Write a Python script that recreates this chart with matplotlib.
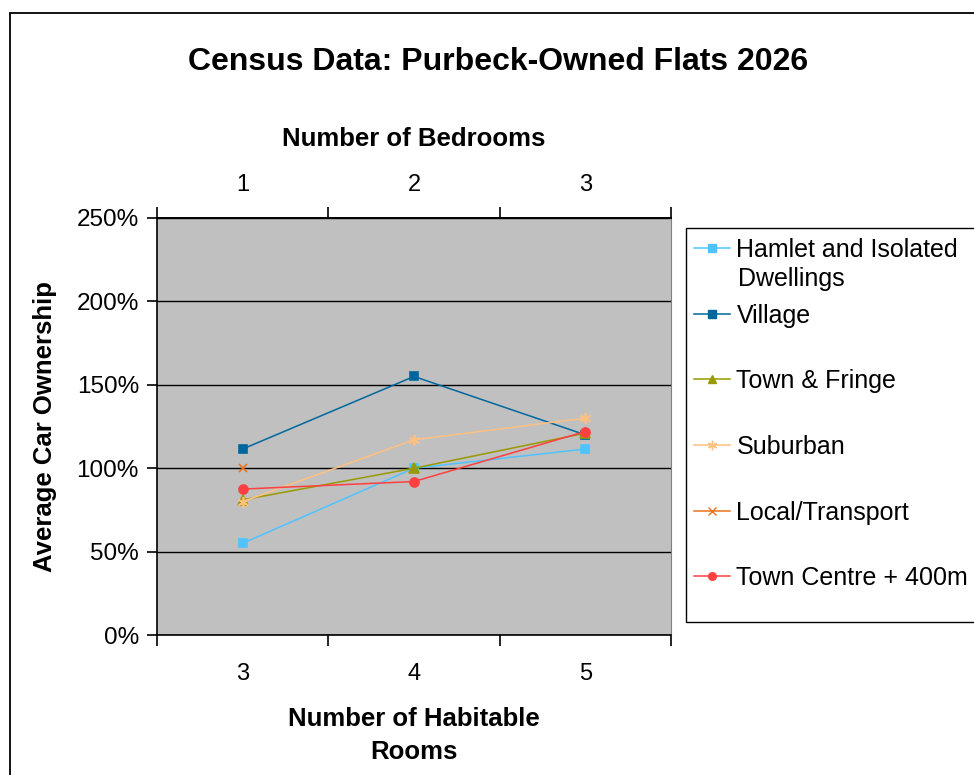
import numpy as np
import matplotlib.pyplot as plt
from matplotlib.lines import Line2D
from matplotlib.patches import Rectangle

plt.rcParams['font.family'] = ['Liberation Sans', 'DejaVu Sans']

rooms = ['3', '4', '5']
bedrooms = ['1', '2', '3']

hamlet = [55, 100, 111.5]
village = [111.5, 155, 120]
town_fringe = [81, 100, 121]
suburban = [80, 117, 130]
local_transport = [100, np.nan, np.nan]
town_centre = [87.5, 92, 122]

series = [
    ('Hamlet and Isolated', hamlet, '#4FC3FF', 's', 6),
    ('Village', village, '#00679E', 's', 6),
    ('Town & Fringe', town_fringe, '#999900', '^', 7),
    ('Suburban', suburban, '#FFC080', (6, 2, 0), 8),
    ('Local/Transport', local_transport, '#E8741E', 'x', 6),
    ('Town Centre + 400m', town_centre, '#FF4040', 'o', 6.5),
]

fig = plt.figure(figsize=(9.74, 7.75), dpi=100)
W, H = 974, 775

# outer chart border (cut off on the right and bottom like the original)
fig.patches.append(Rectangle((10 / W, -0.2), 2, 1 - 13 / H + 0.2, transform=fig.transFigure,
                             fill=False, edgecolor='black', linewidth=1.3, zorder=0))

ax = fig.add_axes([157 / W, 1 - 635 / H, (671 - 157) / W, (635 - 218) / H])
ax.set_facecolor('#C0C0C0')

x = np.arange(len(rooms))
for name, vals, col, mk, ms in series:
    ax.plot(x, vals, color=col, marker=mk, markersize=ms, linewidth=1.1,
            markeredgecolor=col, markeredgewidth=1.2, zorder=3)

ax.set_xlim(-0.5, 2.5)
ax.set_ylim(0, 250)
ax.set_yticks(np.arange(0, 251, 50))
ax.set_yticklabels([f'{v}%' for v in range(0, 251, 50)])
ax.yaxis.grid(True, color='black', linewidth=1)
ax.set_axisbelow(True)

ax.set_xticks([-0.5, 0.5, 1.5, 2.5])
ax.set_xticklabels([])
ax.set_xticks(x, minor=True)
ax.set_xticklabels(rooms, minor=True)
ax.tick_params(axis='x', which='major', length=8, width=1.2, direction='out')
ax.tick_params(axis='x', which='minor', length=0, pad=20, labelsize=17)
ax.tick_params(axis='y', length=7, width=1.2, pad=6, labelsize=17.5)

for s in ['left', 'bottom', 'top']:
    ax.spines[s].set_color('black')
    ax.spines[s].set_linewidth(1.2)
ax.spines['right'].set_color('#808080')

ax.set_xlabel('Number of Habitable\nRooms', fontsize=18.5, fontweight='bold', labelpad=16,
              linespacing=1.45)
ax.set_ylabel('Average Car Ownership', fontsize=18.5, fontweight='bold', labelpad=14)

top = ax.twiny()
top.set_xlim(-0.5, 2.5)
top.set_xticks([-0.5, 0.5, 1.5, 2.5])
top.set_xticklabels([])
top.set_xticks(x, minor=True)
top.set_xticklabels(bedrooms, minor=True)
top.tick_params(axis='x', which='major', length=8, width=1.2, direction='out')
top.tick_params(axis='x', which='minor', length=0, pad=16, labelsize=17)
top.set_xlabel('Number of Bedrooms', fontsize=18.5, fontweight='bold', labelpad=20)
for s in ['left', 'bottom', 'right']:
    top.spines[s].set_visible(False)
top.spines['top'].set_color('black')
top.spines['top'].set_linewidth(1.2)

fig.text(498 / W, 1 - 62 / H, 'Census Data: Purbeck-Owned Flats 2026', ha='center', va='center',
         fontsize=23, fontweight='bold')

# legend: frame plus one row per series, laid out like the spreadsheet legend
fig.patches.append(Rectangle((686 / W, 1 - 622 / H), 1, (622 - 228) / H, transform=fig.transFigure,
                             facecolor='white', edgecolor='black', linewidth=1.0, zorder=1))
row_y = [250, 316, 381, 447, 513, 578]
for (name, vals, col, mk, ms), yy in zip(series, row_y):
    h = Line2D([], [], color=col, marker=mk, markersize=ms * 0.85, linewidth=1.1,
               markeredgecolor=col, markeredgewidth=1.0)
    fig.legend(handles=[h], labels=[name], loc='center left', frameon=False,
               bbox_to_anchor=(686 / W, 1 - yy / H), fontsize=18, handlelength=1.45,
               handletextpad=0.25, borderpad=0, borderaxespad=0.32)
fig.text(738 / W, 1 - 279 / H, 'Dwellings', ha='left', va='center', fontsize=18)

fig.savefig('out.png', dpi=100)
